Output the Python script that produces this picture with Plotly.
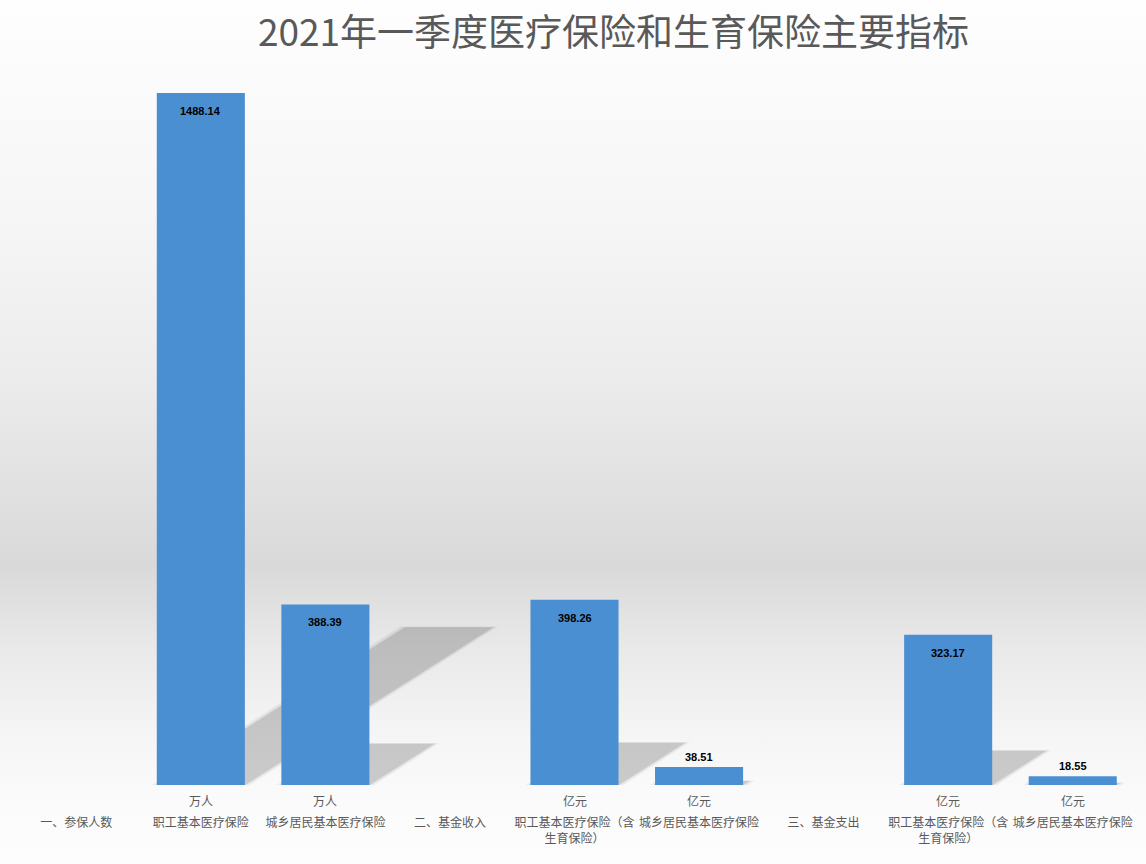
import base64
import plotly.graph_objects as go

# ---------------- data ----------------
categories = [
    "一、参保人数",
    "职工基本医疗保险",
    "城乡居民基本医疗保险",
    "二、基金收入",
    "职工基本医疗保险（含<br>生育保险）",
    "城乡居民基本医疗保险",
    "三、基金支出",
    "职工基本医疗保险（含<br>生育保险）",
    "城乡居民基本医疗保险",
]
units = ["", "万人", "万人", "", "亿元", "亿元", "", "亿元", "亿元"]
values = [None, 1488.14, 388.39, None, 398.26, 38.51, None, 323.17, 18.55]
title_text = "2021年一季度医疗保险和生育保险主要指标"

# ---------------- style ----------------
W, H = 1146, 864
ML, MR, MT, MB = 14, 11, 80, 79
BAR_W = 0.707
BAR_COLOR = "#4a8fd2"
TEXT_GRAY = "#595959"
YMAX = 1516

xs = list(range(len(categories)))

fig = go.Figure()

# decorative perspective shadows derived from the values (drawn below the bars)
shapes = []
for i, v in zip(xs, values):
    if v is None:
        continue
    top = 0.228 * v
    shift = 0.001339 * v
    x0, x1 = i - BAR_W / 2, i + BAR_W / 2
    for grow, alpha in ((0.04, 0.05), (0.015, 0.06), (0.0, 0.09)):
        t = top + grow * 40
        path = (f"M {x0 - grow},0 L {x1 + grow},0 L {x1 + shift + grow},{t} "
                f"L {x0 + shift - grow},{t} Z")
        shapes.append(dict(type="path", path=path, xref="x", yref="y",
                           fillcolor=f"rgba(0,0,0,{alpha})", line=dict(width=0),
                           layer="below"))

fig.add_trace(go.Bar(
    x=xs, y=values, width=BAR_W, marker=dict(color=BAR_COLOR, line=dict(width=0)),
    showlegend=False, hovertemplate="%{y}<extra></extra>",
))

annotations = []
for i, v in zip(xs, values):
    if v is None:
        continue
    big = v > 100
    annotations.append(dict(
        x=i, y=v, xref="x", yref="y", text=f"{v:.2f}", showarrow=False,
        yanchor="top" if big else "bottom", yshift=-10 if big else 2,
        font=dict(family="Liberation Sans, Arial, sans-serif", size=11, color="#000000", weight="bold"),
    ))
for i, u in zip(xs, units):
    if not u:
        continue
    annotations.append(dict(
        x=i, y=0, xref="x", yref="paper", text=u, showarrow=False,
        yanchor="middle", yshift=-15,
        font=dict(family="Noto Sans CJK SC", size=12, color=TEXT_GRAY),
    ))

# background gradient as an SVG image
svg = (
    f'<svg xmlns="http://www.w3.org/2000/svg" width="{W}" height="{H}" preserveAspectRatio="none">'
    '<defs><linearGradient id="g" x1="0" y1="0" x2="0" y2="1">'
    '<stop offset="0" stop-color="#fefefe"/>'
    '<stop offset="0.25" stop-color="#f6f6f6"/>'
    '<stop offset="0.45" stop-color="#ebebeb"/>'
    '<stop offset="0.656" stop-color="#d9d9d9"/>'
    '<stop offset="0.75" stop-color="#e9e9e9"/>'
    '<stop offset="0.85" stop-color="#f5f5f5"/>'
    '<stop offset="0.93" stop-color="#fbfbfb"/>'
    '<stop offset="1" stop-color="#fdfdfd"/>'
    '</linearGradient></defs>'
    f'<rect x="0" y="0" width="{W}" height="{H}" fill="url(#g)"/></svg>'
)
src = "data:image/svg+xml;base64," + base64.b64encode(svg.encode()).decode()
pw, ph = W - ML - MR, H - MT - MB

fig.update_layout(
    width=W, height=H,
    margin=dict(l=ML, r=MR, t=MT, b=MB, pad=0),
    paper_bgcolor="#ffffff", plot_bgcolor="rgba(0,0,0,0)",
    title=dict(text=title_text, x=613.5 / W, xanchor="center", xref="container",
               y=1 - 33 / H, yanchor="middle", yref="container",
               font=dict(family="Noto Sans CJK SC", size=37, color=TEXT_GRAY)),
    xaxis=dict(range=[-0.5, len(categories) - 0.5], tickmode="array", tickvals=xs,
               ticktext=categories, showgrid=False, zeroline=False, showline=False,
               ticks="", ticklabelstandoff=29,
               tickfont=dict(family="Noto Sans CJK SC", size=12, color=TEXT_GRAY)),
    yaxis=dict(range=[0, YMAX], visible=False, showgrid=False, zeroline=False),
    annotations=annotations,
    shapes=shapes,
    images=[dict(source=src, xref="paper", yref="paper", x=-ML / pw, y=1 + MT / ph,
                 sizex=W / pw, sizey=H / ph, sizing="stretch", xanchor="left",
                 yanchor="top", layer="below")],
    bargap=0.293,
)

fig.write_html("out.html")
